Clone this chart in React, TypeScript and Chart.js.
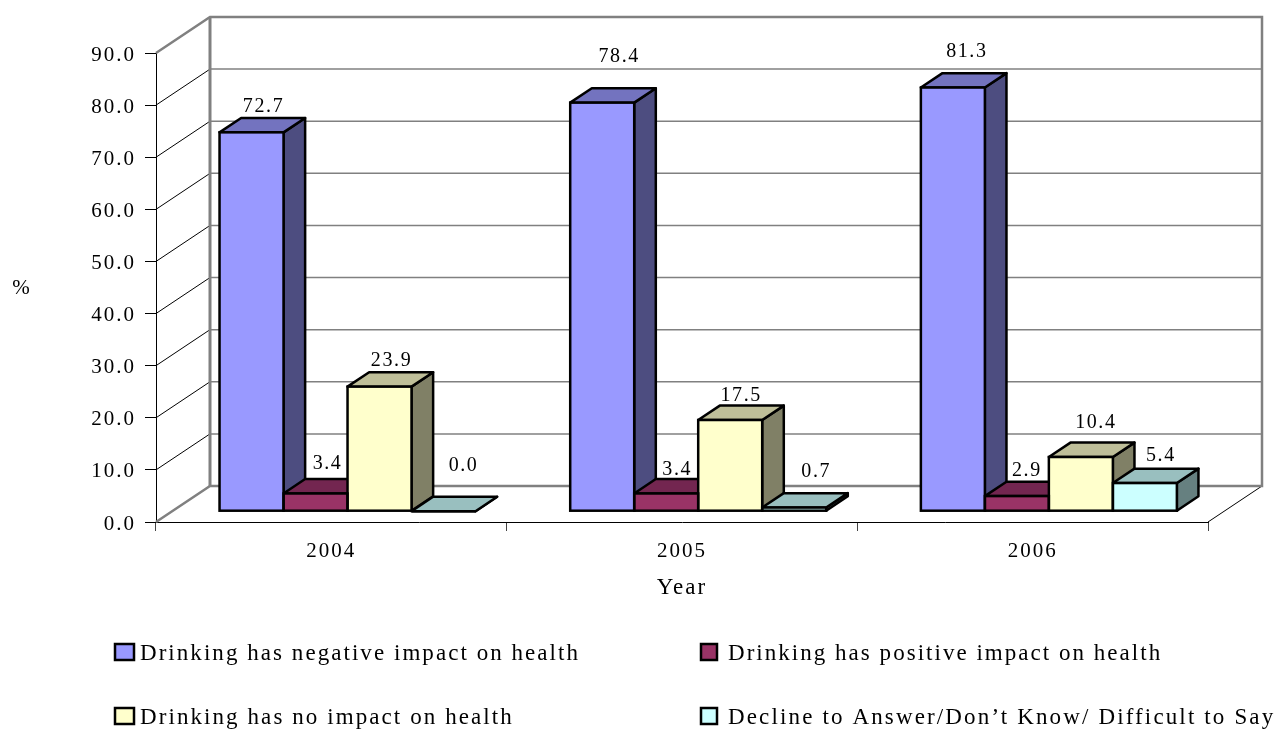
import React, { useEffect, useRef } from "react";
import { Chart, registerables } from "chart.js";

Chart.register(...registerables);

const years = ["2004", "2005", "2006"];
const seriesNames = [
  "Drinking has negative impact on health",
  "Drinking has positive impact on health",
  "Drinking has no impact on health",
  "Decline to Answer/Don\u2019t Know/ Difficult to Say",
];
const negativeImpact = [72.7, 78.4, 81.3];
const positiveImpact = [3.4, 3.4, 2.9];
const noImpact = [23.9, 17.5, 10.4];
const declined = [0.0, 0.7, 5.4];
const frontColors = ["#9999FF", "#993366", "#FFFFCC", "#CCFFFF"];
const topColors = ["#7373BF", "#732650", "#BFBF99", "#99BFBF"];
const sideColors = ["#4D4D80", "#4D1A33", "#808066", "#668080"];
const labelNudges = [
  [[12, -26], [17, -46], [14, -36]],
  [[12, -30], [11, -24], [10, -25]],
  [[12, -26], [11, -24], [15, -34]],
  [[20, -45], [22, -36], [16, -27]],
];

const FONT = '"Liberation Serif"';
const WALL_DX = 54;
const WALL_DY = 36;
const BAR_DX = WALL_DX * 0.3;
const BAR_DY = WALL_DY * 0.3;
const DEPTH_DX = WALL_DX * 0.4;
const DEPTH_DY = WALL_DY * 0.4;
const GRAY = "#808080";
const OUTLINE = 2.5;

function setSpacing(ctx: any, v: string) {
  ctx.letterSpacing = v;
}

function line(ctx: any, pts: number[][], color: string, width: number) {
  ctx.beginPath();
  pts.forEach((p, i) => (i ? ctx.lineTo(p[0], p[1]) : ctx.moveTo(p[0], p[1])));
  ctx.strokeStyle = color;
  ctx.lineWidth = width;
  ctx.stroke();
}

function poly(ctx: any, pts: number[][], fill: string) {
  ctx.beginPath();
  pts.forEach((p, i) => (i ? ctx.lineTo(p[0], p[1]) : ctx.moveTo(p[0], p[1])));
  ctx.closePath();
  ctx.fillStyle = fill;
  ctx.fill();
  ctx.strokeStyle = "#000";
  ctx.lineWidth = OUTLINE;
  ctx.lineJoin = "round";
  ctx.stroke();
}

function barBox(el: any) {
  const l = el.x - el.width / 2 + BAR_DX;
  const r = el.x + el.width / 2 + BAR_DX;
  const t = el.y - BAR_DY;
  const b = el.base - BAR_DY;
  return { l, r, t, b };
}

const threeD = {
  id: "threeD",
  beforeDraw(chart: any) {
    setSpacing(chart.ctx, "2px");
  },
  beforeDatasetsDraw(chart: any) {
    const { ctx, chartArea: a, scales } = chart;
    const y = scales.y;
    ctx.save();
    // walls and grid lines
    y.ticks.forEach((t: any) => {
      const py = y.getPixelForValue(t.value);
      if (t.value > 0 && t.value < 90) {
        line(ctx, [[a.left, py], [a.left + WALL_DX, py - WALL_DY]], "#000", 1);
        line(ctx, [[a.left + WALL_DX, py - WALL_DY], [a.right + WALL_DX, py - WALL_DY]], GRAY, 1.5);
      }
    });
    line(ctx, [[a.right + WALL_DX, a.bottom - WALL_DY], [a.right, a.bottom]], "#000", 1);
    line(ctx, [
      [a.left, a.top],
      [a.left + WALL_DX, a.top - WALL_DY],
      [a.right + WALL_DX, a.top - WALL_DY],
      [a.right + WALL_DX, a.bottom - WALL_DY],
      [a.left + WALL_DX, a.bottom - WALL_DY],
      [a.left, a.bottom],
    ], GRAY, 2.5);
    line(ctx, [[a.left + WALL_DX, a.top - WALL_DY], [a.left + WALL_DX, a.bottom - WALL_DY]], GRAY, 3);
    // tops and sides, left to right so that nearer faces overlap
    years.forEach((_, i) => {
      chart.data.datasets.forEach((_d: any, d: number) => {
        const el = chart.getDatasetMeta(d).data[i];
        const { l, r, t, b } = barBox(el);
        poly(ctx, [[r, t], [r + DEPTH_DX, t - DEPTH_DY], [r + DEPTH_DX, b - DEPTH_DY], [r, b]], sideColors[d]);
        poly(ctx, [[l, t], [l + DEPTH_DX, t - DEPTH_DY], [r + DEPTH_DX, t - DEPTH_DY], [r, t]], topColors[d]);
      });
    });
    ctx.restore();
    ctx.save();
    ctx.translate(BAR_DX, -BAR_DY);
  },
  afterDatasetsDraw(chart: any) {
    const { ctx } = chart;
    ctx.restore();
    ctx.save();
    ctx.strokeStyle = "#000";
    ctx.lineWidth = OUTLINE;
    chart.data.datasets.forEach((ds: any, d: number) => {
      chart.getDatasetMeta(d).data.forEach((el: any, i: number) => {
        const { l, r, t, b } = barBox(el);
        ctx.strokeRect(l, t, r - l, b - t);
      });
    });
    // value labels
    ctx.font = `20px ${FONT}`;
    ctx.fillStyle = "#000";
    ctx.textAlign = "center";
    ctx.textBaseline = "middle";
    setSpacing(ctx, "1.6px");
    chart.data.datasets.forEach((ds: any, d: number) => {
      chart.getDatasetMeta(d).data.forEach((el: any, i: number) => {
        const { l, r, t } = barBox(el);
        const n = labelNudges[d][i];
        ctx.fillText(ds.data[i].toFixed(1), (l + r) / 2 + n[0], t + n[1]);
      });
    });
    // "%" label
    ctx.font = `21px ${FONT}`;
    setSpacing(ctx, "0px");
    ctx.fillText("%", 21, 288);
    // legend
    const rows = [
      { x: 115, w: 19, tx: 140, base: 660, ls: "2.05px" },
      { x: 701, w: 16, tx: 728, base: 660, ls: "2.03px" },
      { x: 115, w: 19, tx: 140, base: 724, ls: "2.08px" },
      { x: 701, w: 16, tx: 728, base: 724, ls: "2.14px" },
    ];
    ctx.font = `23px ${FONT}`;
    ctx.textAlign = "left";
    ctx.textBaseline = "alphabetic";
    chart.data.datasets.forEach((ds: any, d: number) => {
      const p = rows[d];
      ctx.fillStyle = frontColors[d];
      ctx.fillRect(p.x, p.base - 16, p.w, 16);
      ctx.strokeRect(p.x, p.base - 16, p.w, 16);
      ctx.fillStyle = "#000";
      setSpacing(ctx, p.ls);
      ctx.fillText(ds.label, p.tx, p.base);
    });
    setSpacing(ctx, "2px");
    ctx.restore();
  },
};

export default function App() {
  const ref = useRef<HTMLCanvasElement>(null);
  useEffect(() => {
    const values = [negativeImpact, positiveImpact, noImpact, declined];
    const chart = new Chart(ref.current as HTMLCanvasElement, {
      type: "bar",
      data: {
        labels: years,
        datasets: seriesNames.map((label, d) => ({
          label,
          data: values[d],
          backgroundColor: frontColors[d],
          borderWidth: 0,
          categoryPercentage: 0.73,
          barPercentage: 1,
          clip: false,
        })),
      } as any,
      options: {
        animation: false,
        responsive: false,
        layout: { padding: { top: 53, right: 69, left: 0, bottom: 0 } },
        plugins: { legend: { display: false }, tooltip: { enabled: false }, title: { display: false } },
        scales: {
          x: {
            afterFit: (s: any) => { s.height = 207; },
            grid: { drawOnChartArea: false, drawTicks: true, tickLength: 9, color: "#444" },
            border: { color: "#000", width: 1 },
            ticks: { color: "#000", font: { family: FONT, size: 21 }, padding: 8, maxRotation: 0 },
            title: { display: true, text: "Year", color: "#000", font: { family: FONT, size: 23 }, padding: { top: 0, bottom: 127 } },
          },
          y: {
            min: 0,
            max: 90,
            afterFit: (s: any) => { s.width = 156; },
            grid: { drawOnChartArea: false, drawTicks: true, tickLength: 11, color: "#000" },
            border: { color: "#000", width: 1 },
            ticks: {
              stepSize: 10,
              color: "#000",
              font: { family: FONT, size: 21 },
              padding: 9,
              labelOffset: 2,
              callback: (v: any) => Number(v).toFixed(1),
            },
          },
        },
      } as any,
      plugins: [threeD],
    });
    return () => chart.destroy();
  }, []);
  return (
    <canvas
      ref={ref}
      width={1277}
      height={729}
      style={{ position: "absolute", left: 0, top: 0, width: 1277, height: 729, display: "block" }}
    />
  );
}
